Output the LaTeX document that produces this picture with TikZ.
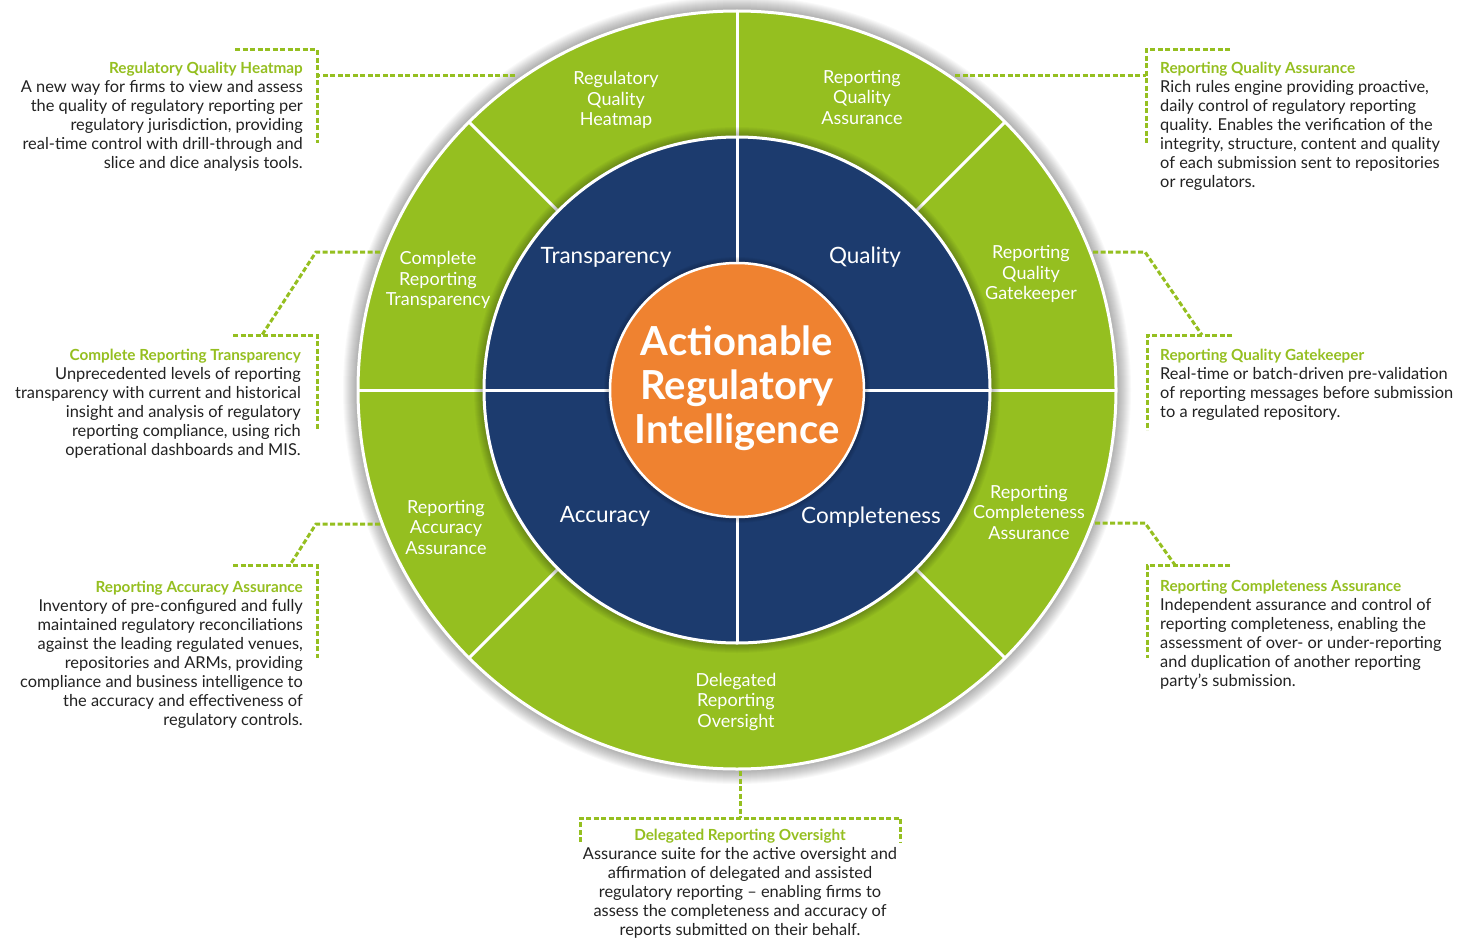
\documentclass[tikz,border=0pt]{standalone}
\usepackage{fontspec}
\setmainfont{Lato}
\definecolor{ringgreen}{HTML}{95BF20}
\definecolor{ringblue}{HTML}{1C3B6E}
\definecolor{coreorange}{HTML}{EF8230}
\definecolor{bodygray}{HTML}{222222}
\newcommand{\infohead}[1]{{\color{ringgreen}\fontsize{15.3}{19}\selectfont\bfseries #1}}

\begin{document}
\begin{tikzpicture}[x=1pt,y=-1pt]
            \tikzset{Sector/.style={text=white,align=center,font=\fontsize{18}{20.5}\selectfont},
                     Pillar/.style={text=white,font=\fontsize{22.5}{24}\selectfont},
                     Core/.style={text=white,align=center,font=\fontsize{40}{44}\selectfont\bfseries},
                     Info/.style={text=bodygray,inner sep=0pt,font=\fontsize{16.4}{19}\selectfont},
                     Leader/.style={ringgreen,line width=3pt,dash pattern=on 5pt off 2.5pt},
                     Divider/.style={white,line width=3pt}}
            \useasboundingbox[fill=white] (0,0) rectangle (1464,939);
            \coordinate (ctr) at (737,390);
            % rings
            \foreach \k in {1,...,14} \fill[black,opacity=0.025] (ctr) circle[radius=380pt+\k pt];
            \fill[ringgreen] (ctr) circle[radius=380pt];
            \draw[white,line width=3pt] (ctr) circle[radius=379pt];
            \foreach \a in {90,45,0,-45,-135,180,135} \draw[Divider] (ctr) ++(\a:253pt) -- ++(\a:127pt);
            \foreach \k in {1,...,10} \fill[black,opacity=0.03] (ctr) circle[radius=253pt+\k pt];
            \fill[ringblue] (ctr) circle[radius=253pt];
            \draw[white,line width=3pt] (ctr) circle[radius=253pt];
            \foreach \a in {0,90,180,270} \draw[Divider] (ctr) ++(\a:127pt) -- ++(\a:126pt);
            \foreach \k in {1,...,6} \fill[black,opacity=0.04] (ctr) circle[radius=127pt+\k pt];
            \fill[coreorange] (ctr) circle[radius=127pt];
            \draw[white,line width=2.5pt] (ctr) circle[radius=127pt];
            % labels on the wheel
            \node[Core] (core) at (737,388) {Actionable\\Regulatory\\Intelligence};
            \node[Pillar] (transp) at (606,257) {Transparency};
            \node[Pillar] (qual) at (865,257) {Quality};
            \node[Pillar] (accur) at (605,516) {Accuracy};
            \node[Pillar] (compl) at (871,517) {Completeness};
            \node[Sector] (s-heat) at (616,100) {Regulatory\\Quality\\Heatmap};
            \node[Sector] (s-rqa) at (862,97) {Reporting\\Quality\\Assurance};
            \node[Sector] (s-crt) at (438,280) {Complete\\Reporting\\Transparency};
            \node[Sector] (s-rqg) at (1031,274) {Reporting\\Quality\\Gatekeeper};
            \node[Sector] (s-raa) at (446,527) {Reporting\\Accuracy\\Assurance};
            \node[Sector] (s-rca) at (1029,512) {Reporting\\Completeness\\Assurance};
            \node[Sector] (s-dro) at (736,702) {Delegated\\Reporting\\Oversight};
            % descriptions
            \node[Info,anchor=north east,align=right] (t-heat) at (303,62) {\infohead{Regulatory Quality Heatmap}\\
                A new way for firms to view and assess\\ the quality of regulatory reporting per\\
                regulatory jurisdiction, providing\\ real-time control with drill-through and\\
                slice and dice analysis tools.};
            \node[Info,anchor=north west,align=left] (t-rqa) at (1160,62) {\infohead{Reporting Quality Assurance}\\
                Rich rules engine providing proactive,\\ daily control of regulatory reporting\\
                quality. Enables the verification of the\\ integrity, structure, content and quality\\
                of each submission sent to repositories\\ or regulators.};
            \node[Info,anchor=north east,align=right] (t-crt) at (301,349) {\infohead{Complete Reporting Transparency}\\
                Unprecedented levels of reporting\\ transparency with current and historical\\
                insight and analysis of regulatory\\ reporting compliance, using rich\\
                operational dashboards and MIS.};
            \node[Info,anchor=north west,align=left] (t-rqg) at (1160,349) {\infohead{Reporting Quality Gatekeeper}\\
                Real-time or batch-driven pre-validation\\ of reporting messages before submission\\
                to a regulated repository.};
            \node[Info,anchor=north east,align=right] (t-raa) at (303,581) {\infohead{Reporting Accuracy Assurance}\\
                Inventory of pre-configured and fully\\ maintained regulatory reconciliations\\
                against the leading regulated venues,\\ repositories and ARMs, providing\\
                compliance and business intelligence to\\ the accuracy and effectiveness of\\
                regulatory controls.};
            \node[Info,anchor=north west,align=left] (t-rca) at (1160,580) {\infohead{Reporting Completeness Assurance}\\
                Independent assurance and control of\\ reporting completeness, enabling the\\
                assessment of over- or under-reporting\\ and duplication of another reporting\\
                party’s submission.};
            \node[Info,anchor=north,align=center] (t-dro) at (740,829) {\infohead{Delegated Reporting Oversight}\\
                Assurance suite for the active oversight and\\ affirmation of delegated and assisted\\
                regulatory reporting -- enabling firms to\\ assess the completeness and accuracy of\\
                reports submitted on their behalf.};
            % leaders
            \coordinate (heat-in) at (515,76);   \coordinate (heat-jn) at (317,76);
            \coordinate (heat-a) at (235,50);    \coordinate (heat-b) at (317,50);   \coordinate (heat-c) at (317,143);
            \coordinate (rqa-in) at (955,76);    \coordinate (rqa-jn) at (1146,76);
            \coordinate (rqa-a) at (1230,50);    \coordinate (rqa-b) at (1146,50);   \coordinate (rqa-c) at (1146,143);
            \coordinate (crt-in) at (380,252);   \coordinate (crt-kn) at (316,252);  \coordinate (crt-jn) at (262,335);
            \coordinate (crt-a) at (233,335);    \coordinate (crt-b) at (317,335);   \coordinate (crt-c) at (317,430);
            \coordinate (rqg-in) at (1093,252);  \coordinate (rqg-kn) at (1145,252); \coordinate (rqg-jn) at (1202,335);
            \coordinate (rqg-a) at (1232,335);   \coordinate (rqg-b) at (1147,335);  \coordinate (rqg-c) at (1147,430);
            \coordinate (raa-in) at (380,524);   \coordinate (raa-kn) at (316,524);  \coordinate (raa-jn) at (290,565);
            \coordinate (raa-a) at (233,565);    \coordinate (raa-b) at (317,565);   \coordinate (raa-c) at (317,658);
            \coordinate (rca-in) at (1095,523);  \coordinate (rca-kn) at (1145,523); \coordinate (rca-jn) at (1175,565);
            \coordinate (rca-a) at (1230,565);   \coordinate (rca-b) at (1147,565);  \coordinate (rca-c) at (1147,658);
            \coordinate (dro-in) at (740,771);   \coordinate (dro-jn) at (740,818);
            \coordinate (dro-a) at (580,842);    \coordinate (dro-b) at (580,818);   \coordinate (dro-c) at (900,818); \coordinate (dro-d) at (900,842);
            \draw[Leader] (heat-in) -- (heat-jn);
            \draw[Leader] (heat-a) -- (heat-b) -- (heat-c);
            \draw[Leader] (rqa-in) -- (rqa-jn);
            \draw[Leader] (rqa-a) -- (rqa-b) -- (rqa-c);
            \draw[Leader] (crt-in) -- (crt-kn) -- (crt-jn);
            \draw[Leader] (crt-a) -- (crt-b) -- (crt-c);
            \draw[Leader] (rqg-in) -- (rqg-kn) -- (rqg-jn);
            \draw[Leader] (rqg-a) -- (rqg-b) -- (rqg-c);
            \draw[Leader] (raa-in) -- (raa-kn) -- (raa-jn);
            \draw[Leader] (raa-a) -- (raa-b) -- (raa-c);
            \draw[Leader] (rca-in) -- (rca-kn) -- (rca-jn);
            \draw[Leader] (rca-a) -- (rca-b) -- (rca-c);
            \draw[Leader] (dro-in) -- (dro-jn);
            \draw[Leader] (dro-a) -- (dro-b) -- (dro-c) -- (dro-d);
        \end{tikzpicture}
\end{document}
